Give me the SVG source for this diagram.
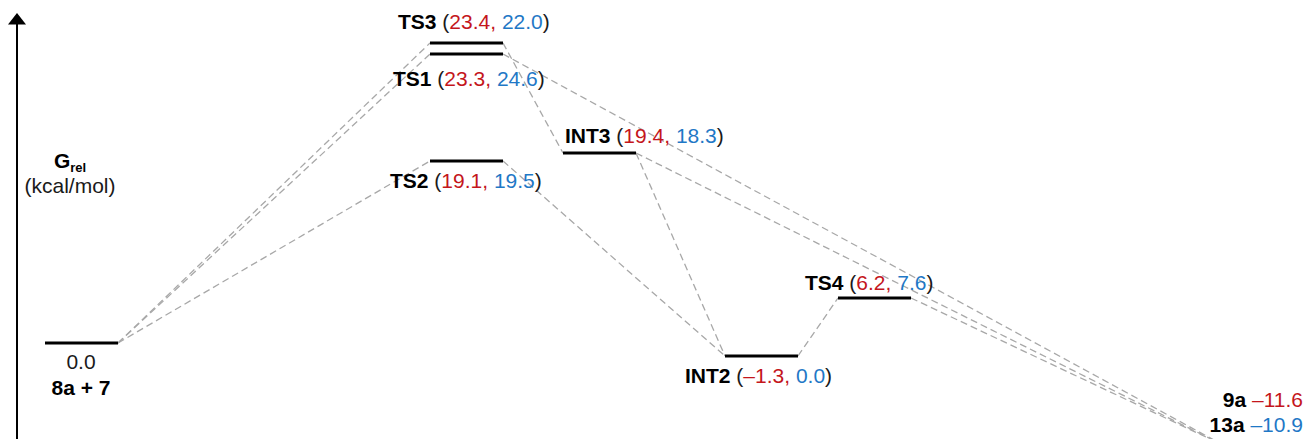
<svg xmlns="http://www.w3.org/2000/svg" width="1309" height="439" viewBox="0 0 1309 439">
<style>
text{font-family:"Liberation Sans",Arial,sans-serif;font-size:21px;fill:#1a1a1a}
.b{font-weight:bold;fill:#000}
.r{fill:#C4161C}
.u{fill:#1F78C6}
.lvl{stroke:#000;stroke-width:3;fill:none}
.dash{stroke:#A8A8A8;stroke-width:1.3;stroke-dasharray:7,4;fill:none}
.axis{stroke:#000;stroke-width:2;fill:none}
</style>
<g id="axis">
<line class="axis" x1="17" y1="439" x2="17" y2="22"/>
<polygon points="17,13 8,24.5 26,24.5" fill="#000"/>
<text x="70" y="168" text-anchor="middle"><tspan class="b">G</tspan><tspan class="b" font-size="13" dy="4">rel</tspan></text>
<text x="70" y="193" text-anchor="middle" font-size="22">(kcal/mol)</text>
</g>
<g id="connectors">
<line class="dash" x1="118" y1="343" x2="430" y2="43"/>
<line class="dash" x1="118" y1="343" x2="430" y2="54"/>
<line class="dash" x1="118" y1="343" x2="430" y2="161"/>
<line class="dash" x1="503" y1="43" x2="563" y2="153"/>
<line class="dash" x1="503" y1="54" x2="1225" y2="446"/>
<line class="dash" x1="503" y1="161" x2="725" y2="356"/>
<line class="dash" x1="636" y1="153" x2="725" y2="356"/>
<line class="dash" x1="636" y1="153" x2="1225" y2="446"/>
<line class="dash" x1="798" y1="356" x2="838" y2="298"/>
<line class="dash" x1="911" y1="298" x2="1225" y2="446"/>
</g>
<g id="n-8a7">
<line class="lvl" x1="45" y1="343" x2="118" y2="343"/>
<text x="81" y="369" text-anchor="middle">0.0</text>
<text x="81" y="395" text-anchor="middle" class="b">8a + 7</text>
</g>
<g id="n-TS3">
<line class="lvl" x1="430" y1="43" x2="503" y2="43"/>
<text x="398" y="29"><tspan class="b">TS3</tspan> (<tspan class="r">23.4,</tspan> <tspan class="u">22.0</tspan>)</text>
</g>
<g id="n-TS1">
<line class="lvl" x1="430" y1="54" x2="503" y2="54"/>
<text x="393" y="86"><tspan class="b">TS1</tspan> (<tspan class="r">23.3,</tspan> <tspan class="u">24.6</tspan>)</text>
</g>
<g id="n-TS2">
<line class="lvl" x1="430" y1="161" x2="503" y2="161"/>
<text x="390" y="188"><tspan class="b">TS2</tspan> (<tspan class="r">19.1,</tspan> <tspan class="u">19.5</tspan>)</text>
</g>
<g id="n-INT3">
<line class="lvl" x1="563" y1="153" x2="636" y2="153"/>
<text x="565" y="143"><tspan class="b">INT3</tspan> (<tspan class="r">19.4,</tspan> <tspan class="u">18.3</tspan>)</text>
</g>
<g id="n-INT2">
<line class="lvl" x1="725" y1="356" x2="798" y2="356"/>
<text x="685" y="383"><tspan class="b">INT2</tspan> (<tspan class="r">–1.3,</tspan> <tspan class="u">0.0</tspan>)</text>
</g>
<g id="n-TS4">
<line class="lvl" x1="838" y1="298" x2="911" y2="298"/>
<text x="805" y="290"><tspan class="b">TS4</tspan> (<tspan class="r">6.2,</tspan> <tspan class="u">7.6</tspan>)</text>
</g>
<g id="n-products">
<text x="1303" y="407" text-anchor="end"><tspan class="b">9a</tspan> <tspan class="r">–11.6</tspan></text>
<text x="1303" y="432" text-anchor="end"><tspan class="b">13a</tspan> <tspan class="u">–10.9</tspan></text>
</g>
</svg>
